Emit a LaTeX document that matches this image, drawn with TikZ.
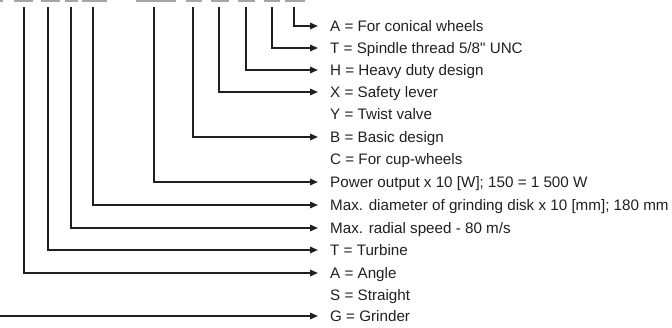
\documentclass[tikz,border=0pt]{standalone}
\usepackage{fontspec}
\setmainfont{Liberation Sans}
\usetikzlibrary{arrows.meta}
\definecolor{codeink}{RGB}{35,31,32}
\definecolor{codegray}{RGB}{165,165,165}

\begin{document}
\begin{tikzpicture}[x=1pt, y=-1pt,
  key/.style={anchor=west, inner xsep=12pt, inner ysep=0pt,
              text height=10.9pt, text depth=0pt,
              font=\fontsize{15.2}{18}\selectfont, text=codeink},
  lead/.style={codeink, line width=1.5pt,
               -{Triangle[length=8pt, width=6.5pt]}}]

\useasboundingbox (0,0) rectangle (672,327);

% Underlines of the type code (cut at the top edge)
\foreach \a/\b in {0/3, 14/33, 41/60, 65/78, 82/107, 136/176,
                   186/202, 211/229, 238/255, 264/280, 285/305}
  \fill[codegray] (\a,0) rectangle (\b,2);

% Meaning of each position
\node[key] (conical)  at (318,26)  {A = For conical wheels};
\node[key] (thread)   at (318,48)  {T = Spindle thread 5/8\textquotedbl{} UNC};
\node[key] (heavy)    at (318,70)  {H = Heavy duty design};
\node[key] (lever)    at (318,92)  {X = Safety lever};
\node[key] (twist)    at (318,114) {Y = Twist valve};
\node[key] (basic)    at (318,137) {B = Basic design};
\node[key] (cup)      at (318,159) {C = For cup-wheels};
\node[key] (power)    at (318,182) {Power output x 10 [W]; 150 = 1 500 W};
\node[key] (disk)     at (318,205) {Max. diameter of grinding disk x 10 [mm]; 180 mm};
\node[key] (speed)    at (318,228) {Max. radial speed - 80 m/s};
\node[key] (turbine)  at (318,250) {T = Turbine};
\node[key] (angle)    at (318,273) {A = Angle};
\node[key] (straight) at (318,295) {S = Straight};
\node[key] (grinder)  at (318,316) {G = Grinder};

% Tops of the leader lines
\coordinate (c-conical) at (294,7);
\coordinate (c-thread)  at (272,7);
\coordinate (c-heavy)   at (246,7);
\coordinate (c-lever)   at (219,7);
\coordinate (c-basic)   at (193,7);
\coordinate (c-power)   at (154,7);
\coordinate (c-disk)    at (93,7);
\coordinate (c-speed)   at (71,7);
\coordinate (c-turbine) at (48,7);
\coordinate (c-angle)   at (24,7);
\coordinate (c-grinder) at (0,316);

% Leaders
\foreach \k in {conical, thread, heavy, lever, basic, power, disk, speed, turbine, angle}
  \draw[lead] (c-\k) |- (\k.west);
\draw[lead] (c-grinder) -- (grinder.west);

\end{tikzpicture}
\end{document}
